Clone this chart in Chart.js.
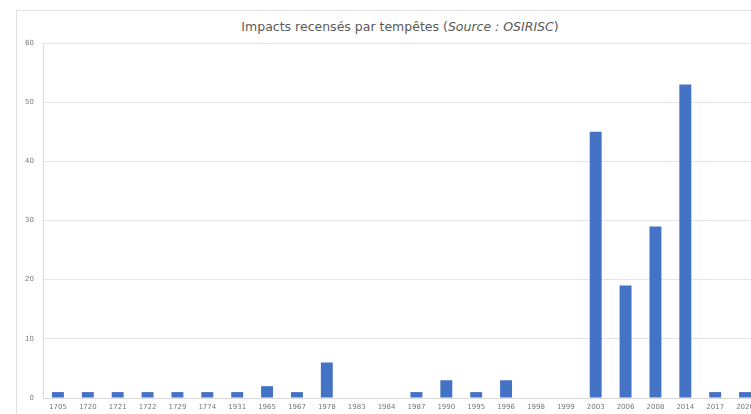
<!DOCTYPE html>
<html>
<head>
<meta charset="utf-8">
<script src="https://cdn.jsdelivr.net/npm/chart.js@4/dist/chart.umd.min.js"></script>
<style>
  html, body { margin: 0; padding: 0; background: #fff; overflow: hidden; width: 751px; height: 414px; }
  #box { position: absolute; left: 16px; top: 10px; width: 766px; height: 420px; border: 1px solid #e2e2e2; box-sizing: border-box; }
  #title { position: absolute; left: 0; top: 8px; width: 766px; text-align: center; font: 12.5px "DejaVu Sans", sans-serif; color: #5a5a5a; }
  #wrap { position: absolute; left: -1px; top: -1px; width: 766px; height: 404px; }
</style>
</head>
<body>
<div id="box">
  <div id="title">Impacts recensés par tempêtes (<i>Source : OSIRISC</i>)</div>
  <div id="wrap"><canvas id="chart"></canvas></div>
</div>
<script>
const years = ['1705', '1720', '1721', '1722', '1729', '1774', '1931', '1965', '1967', '1978', '1983', '1984',
  '1987', '1990', '1995', '1996', '1998', '1999', '2003', '2006', '2008', '2014', '2017', '2020'];
const impacts = [1, 1, 1, 1, 1, 1, 1, 2, 1, 6, 0, 0, 1, 3, 1, 3, 0, 0, 45, 19, 29, 53, 1, 1];
const yTicks = [0, 10, 20, 30, 40, 50, 60];

const tickFont = { family: 'DejaVu Sans', size: 7 };

new Chart(document.getElementById('chart'), {
  type: 'bar',
  data: {
    labels: years,
    datasets: [{ data: impacts, backgroundColor: '#4472c4', categoryPercentage: 0.8, barPercentage: 0.5 }]
  },
  options: {
    responsive: true,
    maintainAspectRatio: false,
    animation: false,
    layout: { padding: { top: 33, right: 22, bottom: 0, left: 0 } },
    plugins: { legend: { display: false }, tooltip: { enabled: false } },
    scales: {
      x: {
        grid: { display: false, drawTicks: false, tickLength: 0 },
        border: { color: '#d9d9d9' },
        ticks: { font: tickFont, color: '#777', padding: 5, maxRotation: 0, autoSkip: false },
        afterFit: (s) => { s.height = 16; }
      },
      y: {
        min: 0,
        max: 60,
        afterBuildTicks: (s) => { s.ticks = yTicks.map((v) => ({ value: v })); },
        grid: { color: '#e4e4e4', drawTicks: false },
        border: { color: '#d9d9d9' },
        ticks: { font: tickFont, color: '#777', padding: 9 },
        afterFit: (s) => { s.width = 27; }
      }
    }
  }
});
</script>
</body>
</html>
